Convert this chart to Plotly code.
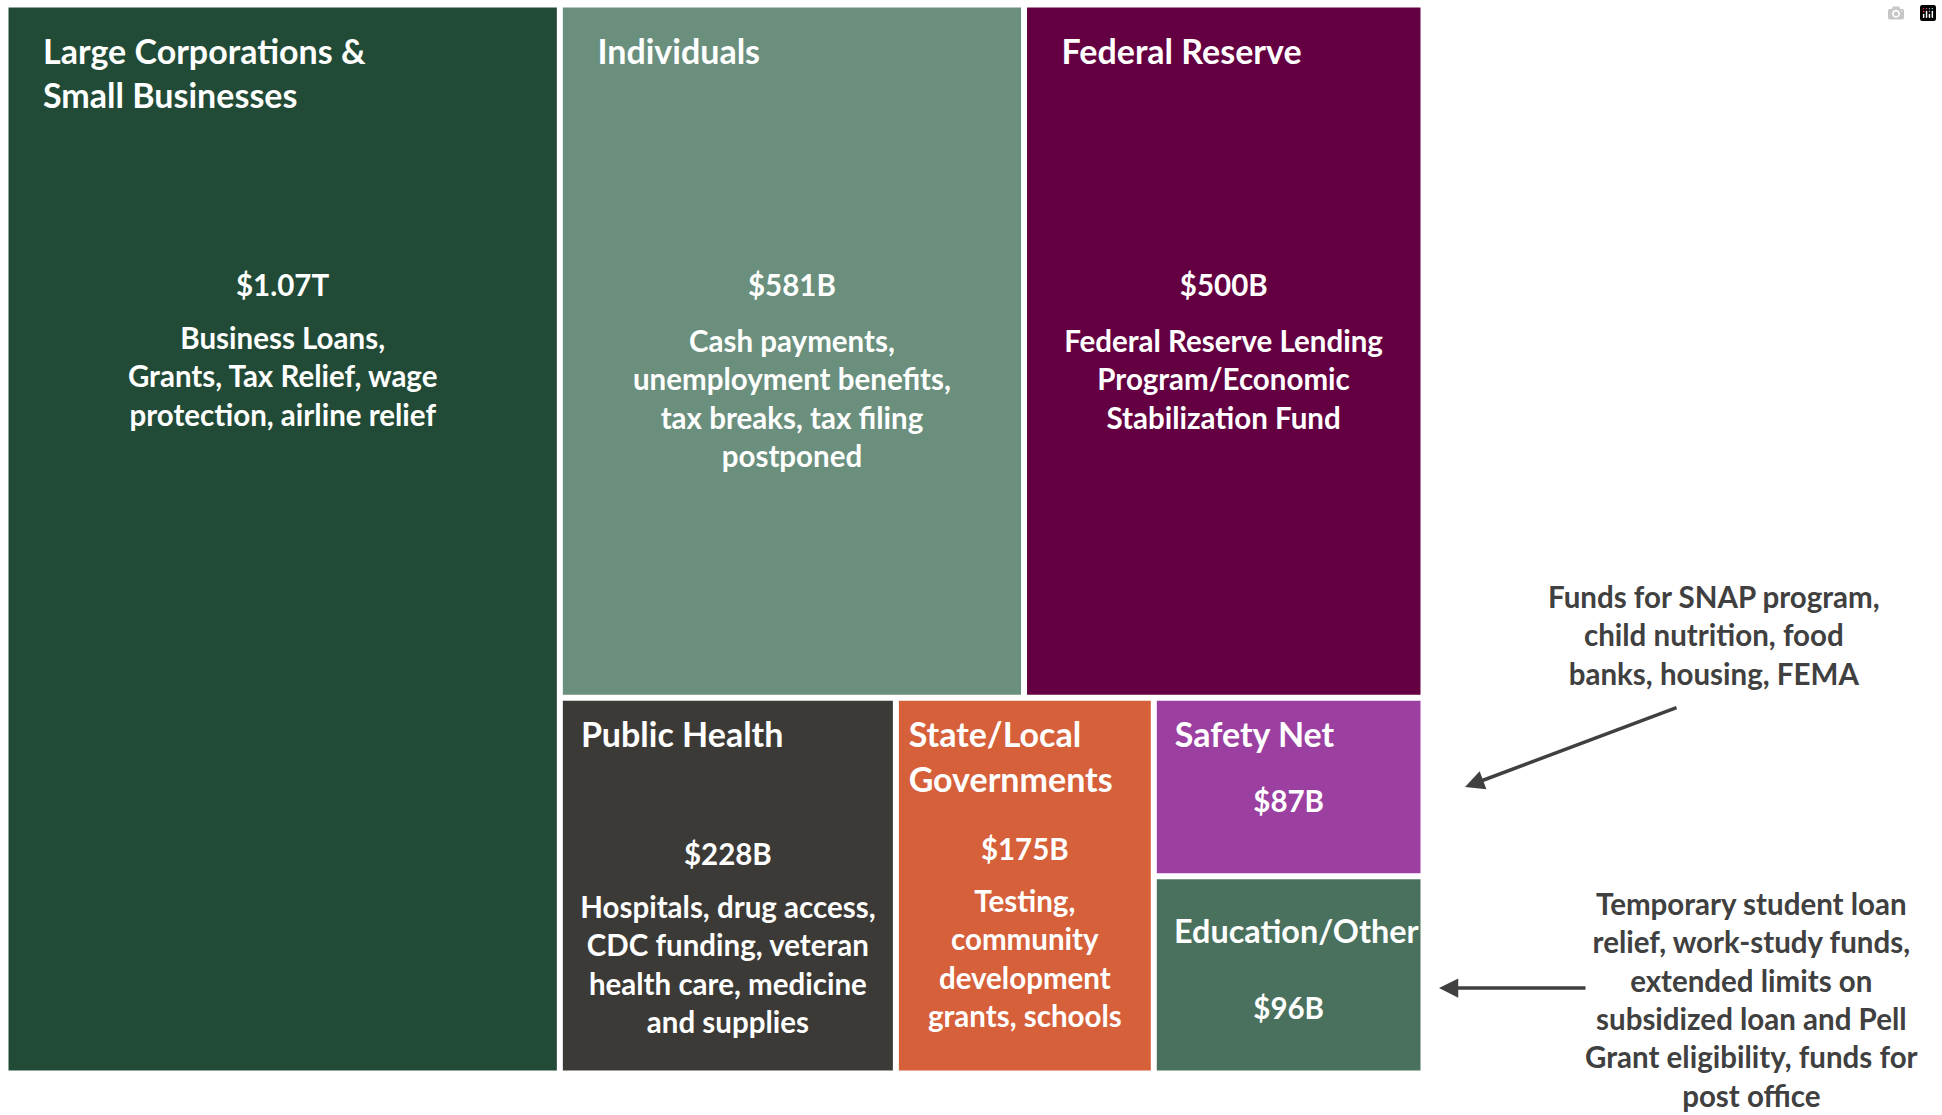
import plotly.graph_objects as go

# ---------------- data ----------------
categories = [
    "Large Corporations &<br>Small Businesses",
    "Individuals",
    "Federal Reserve",
    "Public Health",
    "State/Local<br>Governments",
    "Safety Net",
    "Education/Other",
]
values_billion = [1070, 581, 500, 228, 175, 87, 96]
value_labels = ["$1.07T", "$581B", "$500B", "$228B", "$175B", "$87B", "$96B"]
descriptions = [
    "Business Loans,<br>Grants, Tax Relief, wage<br>protection, airline relief",
    "Cash payments,<br>unemployment benefits,<br>tax breaks, tax filing<br>postponed",
    "Federal Reserve Lending<br>Program/Economic<br>Stabilization Fund",
    "Hospitals, drug access,<br>CDC funding, veteran<br>health care, medicine<br>and supplies",
    "Testing,<br>community<br>development<br>grants, schools",
    "",
    "",
]
note_safety = "Funds for SNAP program,<br>child nutrition, food<br>banks, housing, FEMA"
note_education = ("Temporary student loan<br>relief, work-study funds,<br>extended limits on<br>"
                  "subsidized loan and Pell<br>Grant eligibility, funds for<br>post office")

# ---------------- styles ----------------
colors = ["#214B36", "#6A8F7D", "#640041", "#3C3A36", "#D6603A", "#9B3FA1", "#4A715D"]
# distance (px) from the top of each tile to the centre of the first text line
title_offset = [46, 46, 46, 36, 36, 36, 56]
value_offset = [280, 280, 280, 155, 150, 102, 130]
desc_offset = [332, 335, 335, 208, 202, 0, 0]
# left indent of the tile titles, in non-breaking spaces
title_indent = [4, 4, 4, 2, 1, 2, 2]

FONT = "Lato"
TITLE_SIZE = 34
BODY_SIZE = 29.5
NB = "\u00a0"
ASC = 0.987     # font ascent (em)
PAD = 3         # plotly inner text padding


def push_down(s, centre, size):
    """Prefix blank lines so that the first real line is centred `centre` px below the tile top."""
    if not s:
        return s
    lh = 1.3 * size
    d = centre - PAD - 0.62 * size
    if d < 5:
        return s
    k = 1
    while d > k * lh - ASC * size + ASC * 1.35 * size:
        k += 1
    f = max(1.0, (d - k * lh + ASC * size) / ASC)
    return (f"<span style='font-size:{f:.1f}px'>{NB}</span><br>" + (NB + "<br>") * (k - 1) + s)


title_text = []
for c, o, n in zip(categories, title_offset, title_indent):
    ind = NB * n
    title_text.append(push_down(ind + c.replace("<br>", "<br>" + ind), o, TITLE_SIZE))
value_text = [push_down(v, o, BODY_SIZE) for v, o in zip(value_labels, value_offset)]
desc_text = [push_down(d, o, BODY_SIZE) for d, o in zip(descriptions, desc_offset)]

W, H = 1942, 1115
dom = dict(x=[7 / W, 1422 / W], y=[1 - 1072 / H, 1 - 6 / H])
parents = [""] * len(categories)


def layer(text, position, size, marker):
    f = dict(family=FONT, size=size, color="white", weight="bold")
    return go.Treemap(
        labels=categories, parents=parents, values=values_billion, sort=False,
        text=text, texttemplate="%{text}", textposition=position,
        textfont=f, insidetextfont=f, marker=marker,
        tiling=dict(packing="squarify", squarifyratio=1),
        pathbar=dict(visible=False), domain=dom, hoverinfo="skip",
    )


clear = dict(colors=["rgba(0,0,0,0)"] * len(categories), line=dict(width=0),
             pad=dict(t=0, l=0, r=0, b=0))

fig = go.Figure()
fig.add_trace(layer(title_text, "top left", TITLE_SIZE,
                    dict(colors=colors, line=dict(color="white", width=3),
                         pad=dict(t=0, l=0, r=0, b=0))))
fig.add_trace(layer(value_text, "top center", BODY_SIZE, clear))
fig.add_trace(layer(desc_text, "top center", BODY_SIZE, clear))

note_font = dict(family=FONT, size=29.5, color="#404040", weight="bold")
arrow_color = "#404040"
fig.add_annotation(x=1714 / W, y=1 - 635 / H, xref="paper", yref="paper", text=note_safety,
                   showarrow=False, font=note_font, align="center",
                   xanchor="center", yanchor="middle")
fig.add_annotation(x=1751 / W, y=1 - 999 / H, xref="paper", yref="paper", text=note_education,
                   showarrow=False, font=note_font, align="center",
                   xanchor="center", yanchor="middle")
fig.add_annotation(x=1465 / W, y=1 - 787 / H, xref="paper", yref="paper", text="",
                   showarrow=True, ax=213, ay=-80, arrowhead=2, arrowsize=1.1,
                   arrowwidth=3.5, arrowcolor=arrow_color, standoff=0)
fig.add_annotation(x=1439 / W, y=1 - 988 / H, xref="paper", yref="paper", text="",
                   showarrow=True, ax=148, ay=0, arrowhead=2, arrowsize=1.1,
                   arrowwidth=3.5, arrowcolor=arrow_color, standoff=0)

fig.update_layout(width=W, height=H, margin=dict(l=0, r=0, t=0, b=0),
                  paper_bgcolor="white", plot_bgcolor="white", showlegend=False)

fig.write_html("out.html", post_script="document.body.style.margin='0';")
